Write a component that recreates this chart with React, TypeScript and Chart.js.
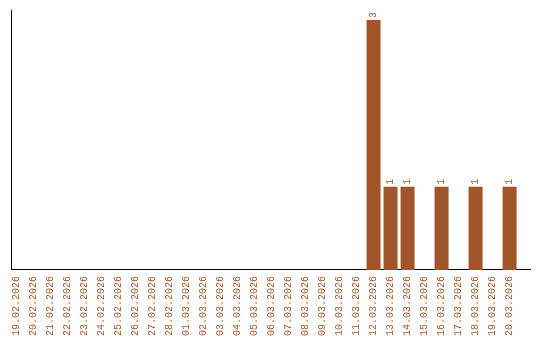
import React, { useEffect, useRef } from "react";
import { Chart, registerables } from "chart.js";

Chart.register(...registerables);

const dateLabels: string[] = [
  "19.02.2026", "20.02.2026", "21.02.2026", "22.02.2026", "23.02.2026",
  "24.02.2026", "25.02.2026", "26.02.2026", "27.02.2026", "28.02.2026",
  "01.03.2026", "02.03.2026", "03.03.2026", "04.03.2026", "05.03.2026",
  "06.03.2026", "07.03.2026", "08.03.2026", "09.03.2026", "10.03.2026",
  "11.03.2026", "12.03.2026", "13.03.2026", "14.03.2026", "15.03.2026",
  "16.03.2026", "17.03.2026", "18.03.2026", "19.03.2026", "20.03.2026",
];

const counts: number[] = [
  0, 0, 0, 0, 0, 0, 0, 0, 0, 0,
  0, 0, 0, 0, 0, 0, 0, 0, 0, 0,
  0, 3, 1, 1, 0, 1, 0, 1, 0, 1,
];

const BROWN = "#A0562A";
const TEXT = "#A8582A";
const FONT = "'Liberation Mono', 'Courier New', monospace";

const barLabels = {
  id: "barLabels",
  afterDatasetsDraw(chart: any) {
    const ctx = chart.ctx;
    const meta = chart.getDatasetMeta(0);
    ctx.save();
    ctx.fillStyle = TEXT;
    ctx.font = `10px ${FONT}`;
    ctx.textAlign = "left";
    ctx.textBaseline = "middle";
    meta.data.forEach((bar: any, i: number) => {
      const v = counts[i];
      if (!v) return;
      ctx.save();
      ctx.translate(bar.x, bar.y - 2);
      ctx.rotate(-Math.PI / 2);
      ctx.fillText(String(v), 0, 0);
      ctx.restore();
    });
    ctx.restore();
  },
};

export default function App() {
  const ref = useRef<HTMLCanvasElement | null>(null);
  useEffect(() => {
    if (!ref.current) return;
    const chart = new Chart(ref.current, {
      type: "bar",
      data: {
        datasets: [
          {
            data: counts.map((v, i) => ({ x: i, y: v })),
            backgroundColor: BROWN,
            borderWidth: 0,
            barPercentage: 14 / 17,
            categoryPercentage: 1,
          },
        ],
      },
      options: {
        animation: false,
        responsive: false,
        layout: { padding: { left: 11, top: 10, right: 10, bottom: -2 } },
        plugins: { legend: { display: false }, tooltip: { enabled: false } },
        scales: {
          x: {
            type: "linear",
            offset: false,
            min: -0.32,
            max: 30.2,
            afterBuildTicks: (scale: any) => {
              scale.ticks = dateLabels.map((_, i) => ({ value: i }));
            },
            afterFit: (scale: any) => {
              scale.paddingLeft = 0;
              scale.paddingRight = 0;
            },
            grid: { display: false, drawTicks: false },
            border: { display: true, color: "#000", width: 1 },
            ticks: {
              autoSkip: false,
              minRotation: 90,
              maxRotation: 90,
              padding: 6,
              color: TEXT,
              font: { family: FONT, size: 10 },
              callback: (v: any) => dateLabels[Math.round(Number(v))] ?? "",
            },
          },
          y: {
            min: 0,
            max: 3.12,
            grid: { display: false, drawTicks: false },
            border: { display: true, color: "#000", width: 1 },
            ticks: { display: false },
          },
        },
      },
      plugins: [barLabels],
    });
    return () => chart.destroy();
  }, []);
  return (
    <div style={{ position: "absolute", left: 0, top: 0, width: 540, height: 340, background: "#fff" }}>
      <canvas ref={ref} width={540} height={340} />
    </div>
  );
}
